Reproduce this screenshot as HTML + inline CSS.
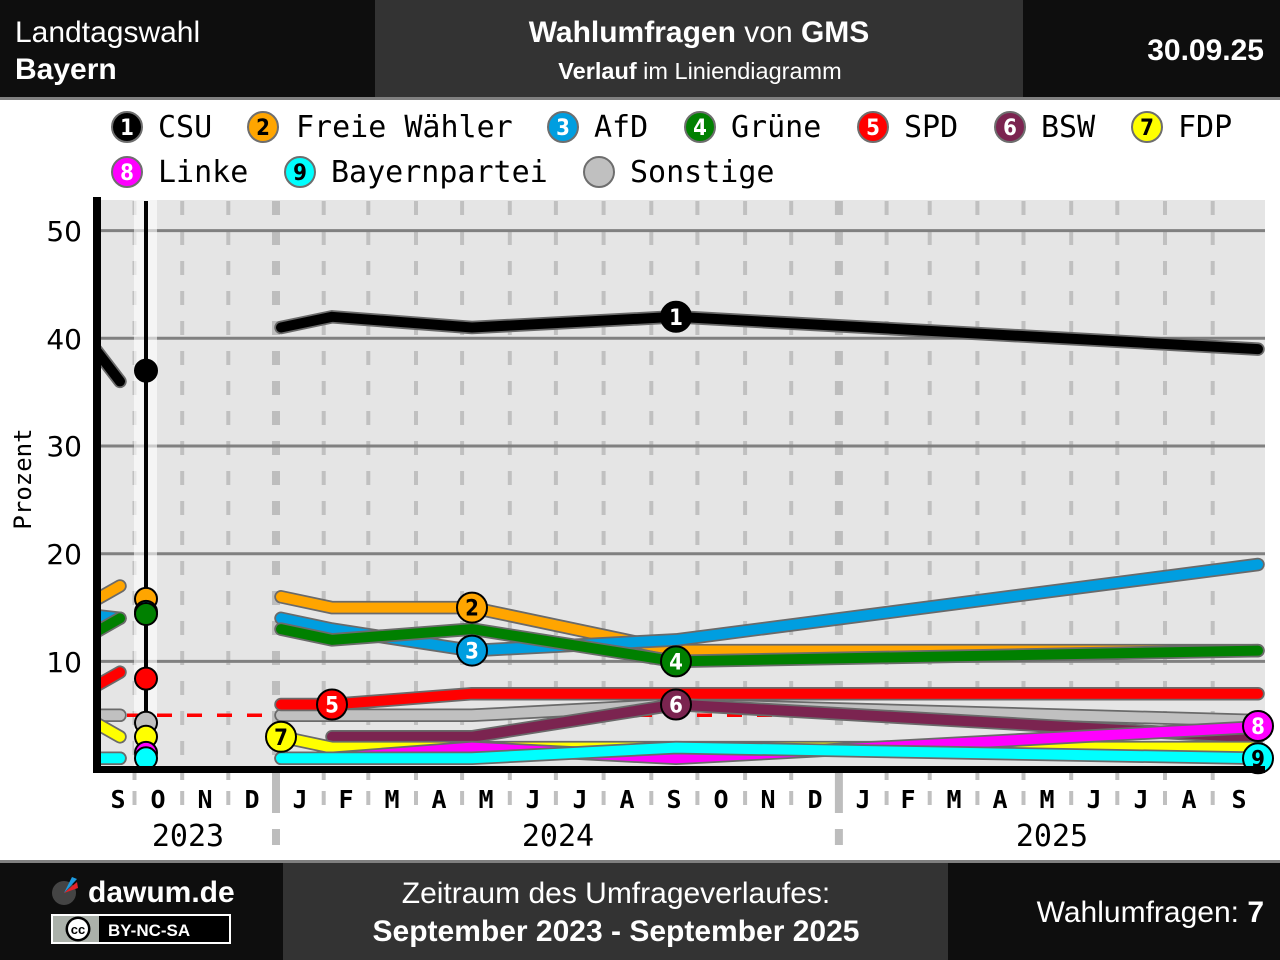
<!DOCTYPE html>
<html><head><meta charset="utf-8"><style>
html,body{margin:0;padding:0;background:#fff;}
svg{display:block;}
.s{font-family:"Liberation Sans",Arial,sans-serif;}
.m{font-family:"DejaVu Sans Mono","Liberation Mono",monospace;}
.d{font-family:"DejaVu Sans","Liberation Sans",sans-serif;}
.n{font-family:"DejaVu Sans Condensed","DejaVu Sans",sans-serif;font-weight:bold;font-size:22px;text-anchor:middle;}
</style></head><body>
<svg width="1280" height="960" viewBox="0 0 1280 960" xmlns="http://www.w3.org/2000/svg">
<defs><clipPath id="pc"><rect x="101" y="195" width="1179" height="575"/></clipPath></defs>
<!-- header -->
<rect x="0" y="0" width="1280" height="97" fill="#0e0e0e"/>
<rect x="375" y="0" width="648" height="97" fill="#333333"/>
<rect x="0" y="97" width="1280" height="3" fill="#808080"/>
<text class="s" x="15" y="42" font-size="30" fill="#fff">Landtagswahl</text>
<text class="s" x="15" y="79" font-size="30" font-weight="bold" fill="#fff">Bayern</text>
<text class="s" x="699" y="42" font-size="30" fill="#fff" text-anchor="middle"><tspan font-weight="bold">Wahlumfragen</tspan> von <tspan font-weight="bold">GMS</tspan></text>
<text class="s" x="700" y="79" font-size="23.5" fill="#fff" text-anchor="middle"><tspan font-weight="bold">Verlauf</tspan> im Liniendiagramm</text>
<text class="s" x="1264" y="60" font-size="30" font-weight="bold" fill="#fff" text-anchor="end">30.09.25</text>

<!-- legend -->
<g stroke="#6e6e6e" stroke-width="2">
<circle cx="127" cy="127" r="15" fill="#000"/>
<circle cx="263" cy="127" r="15" fill="#ffa500"/>
<circle cx="563" cy="127" r="15" fill="#009ee0"/>
<circle cx="700" cy="127" r="15" fill="#008000"/>
<circle cx="873" cy="127" r="15" fill="#ff0000"/>
<circle cx="1010" cy="127" r="15" fill="#7b2450"/>
<circle cx="1147" cy="127" r="15" fill="#ffff00"/>
<circle cx="127" cy="172" r="15" fill="#ff00ff"/>
<circle cx="300" cy="172" r="15" fill="#00ffff"/>
<circle cx="599" cy="172" r="15" fill="#c0c0c0"/>
</g>
<text class="n" x="127" y="135" fill="#fff">1</text>
<text class="n" x="263" y="135" fill="#000">2</text>
<text class="n" x="563" y="135" fill="#fff">3</text>
<text class="n" x="700" y="135" fill="#fff">4</text>
<text class="n" x="873" y="135" fill="#fff">5</text>
<text class="n" x="1010" y="135" fill="#fff">6</text>
<text class="n" x="1147" y="135" fill="#000">7</text>
<text class="n" x="127" y="180" fill="#fff">8</text>
<text class="n" x="300" y="180" fill="#000">9</text>
<g class="m" font-size="30" fill="#000">
<text x="158" y="137">CSU</text>
<text x="296" y="137">Freie Wähler</text>
<text x="594" y="137">AfD</text>
<text x="731" y="137">Grüne</text>
<text x="904" y="137">SPD</text>
<text x="1041" y="137">BSW</text>
<text x="1178" y="137">FDP</text>
<text x="158" y="182">Linke</text>
<text x="331" y="182">Bayernpartei</text>
<text x="630" y="182">Sonstige</text>
</g>

<!-- plot background -->
<rect x="101" y="200" width="1164" height="569" fill="#e5e5e5"/>
<!-- vertical month dashes -->
<g stroke="#c0c0c0" stroke-width="4" stroke-dasharray="14 16">
<line x1="134.5" y1="201" x2="134.5" y2="766"/>
<line x1="182.2" y1="201" x2="182.2" y2="766"/>
<line x1="228.3" y1="201" x2="228.3" y2="766"/>
<line x1="323.7" y1="201" x2="323.7" y2="766"/>
<line x1="368.3" y1="201" x2="368.3" y2="766"/>
<line x1="416" y1="201" x2="416" y2="766"/>
<line x1="462.1" y1="201" x2="462.1" y2="766"/>
<line x1="509.8" y1="201" x2="509.8" y2="766"/>
<line x1="555.9" y1="201" x2="555.9" y2="766"/>
<line x1="603.6" y1="201" x2="603.6" y2="766"/>
<line x1="651.3" y1="201" x2="651.3" y2="766"/>
<line x1="697.4" y1="201" x2="697.4" y2="766"/>
<line x1="745.1" y1="201" x2="745.1" y2="766"/>
<line x1="791.2" y1="201" x2="791.2" y2="766"/>
<line x1="886.6" y1="201" x2="886.6" y2="766"/>
<line x1="929.7" y1="201" x2="929.7" y2="766"/>
<line x1="977.4" y1="201" x2="977.4" y2="766"/>
<line x1="1023.5" y1="201" x2="1023.5" y2="766"/>
<line x1="1071.2" y1="201" x2="1071.2" y2="766"/>
<line x1="1117.3" y1="201" x2="1117.3" y2="766"/>
<line x1="1165" y1="201" x2="1165" y2="766"/>
<line x1="1212.7" y1="201" x2="1212.7" y2="766"/>
</g>
<g stroke="#bdbdbd" stroke-width="8" stroke-dasharray="14 16">
<line x1="276" y1="201" x2="276" y2="766"/>
<line x1="838.9" y1="201" x2="838.9" y2="766"/>
</g>
<!-- horizontal gridlines -->
<g stroke="#808080" stroke-width="3">
<line x1="101" y1="661.4" x2="1265" y2="661.4"/>
<line x1="101" y1="553.7" x2="1265" y2="553.7"/>
<line x1="101" y1="446" x2="1265" y2="446"/>
<line x1="101" y1="338.3" x2="1265" y2="338.3"/>
<line x1="101" y1="230.6" x2="1265" y2="230.6"/>
</g>
<!-- election band -->
<rect x="134" y="200" width="23" height="569" fill="#fff" fill-opacity="0.6"/>
<!-- 5% line -->
<line x1="127" y1="715.3" x2="1265" y2="715.3" stroke="#ff0000" stroke-width="3.5" stroke-dasharray="15 15"/>
<!-- election line -->
<line x1="146" y1="201" x2="146" y2="769" stroke="#000" stroke-width="4"/>

<!-- series -->
<g clip-path="url(#pc)" fill="none" stroke-linejoin="round" stroke-linecap="round">
<!-- Sonstige -->
<polyline points="82,715.3 120,715.3" stroke="#6a6a6a" stroke-width="13.5"/><polyline points="82,715.3 120,715.3" stroke="#c0c0c0" stroke-width="10"/>
<polyline points="281,715.3 332,715.3 472,715.3 676,704.5 1258,720.6" stroke="#6a6a6a" stroke-width="13.5"/><polyline points="281,715.3 332,715.3 472,715.3 676,704.5 1258,720.6" stroke="#c0c0c0" stroke-width="10"/>
<!-- CSU -->
<polyline points="82,331.8 120,381.4" stroke="#6a6a6a" stroke-width="13.5"/><polyline points="82,331.8 120,381.4" stroke="#000" stroke-width="10"/>
<polyline points="281,327.5 332,316.8 472,327.5 676,316.8 1258,349.1" stroke="#6a6a6a" stroke-width="13.5"/><polyline points="281,327.5 332,316.8 472,327.5 676,316.8 1258,349.1" stroke="#000" stroke-width="10"/>
<!-- FW -->
<polyline points="82,607.6 120,586" stroke="#6a6a6a" stroke-width="13.5"/><polyline points="82,607.6 120,586" stroke="#ffa500" stroke-width="10"/>
<polyline points="281,596.8 332,607.6 472,607.6 676,650.6 1258,650.6" stroke="#6a6a6a" stroke-width="13.5"/><polyline points="281,596.8 332,607.6 472,607.6 676,650.6 1258,650.6" stroke="#ffa500" stroke-width="10"/>
<!-- AfD -->
<polyline points="82,614 120,618.3" stroke="#6a6a6a" stroke-width="13.5"/><polyline points="82,614 120,618.3" stroke="#009ee0" stroke-width="10"/>
<polyline points="281,618.3 332,629.1 472,650.6 676,639.9 1258,564.5" stroke="#6a6a6a" stroke-width="13.5"/><polyline points="281,618.3 332,629.1 472,650.6 676,639.9 1258,564.5" stroke="#009ee0" stroke-width="10"/>
<!-- Grüne -->
<polyline points="82,639.9 120,618.3" stroke="#6a6a6a" stroke-width="13.5"/><polyline points="82,639.9 120,618.3" stroke="#008000" stroke-width="10"/>
<polyline points="281,629.1 332,639.9 472,629.1 676,661.4 1258,650.6" stroke="#6a6a6a" stroke-width="13.5"/><polyline points="281,629.1 332,639.9 472,629.1 676,661.4 1258,650.6" stroke="#008000" stroke-width="10"/>
<!-- SPD -->
<polyline points="82,693.7 120,672.2" stroke="#6a6a6a" stroke-width="13.5"/><polyline points="82,693.7 120,672.2" stroke="#ff0000" stroke-width="10"/>
<polyline points="281,704.5 332,704.5 472,693.7 676,693.7 1258,693.7" stroke="#6a6a6a" stroke-width="13.5"/><polyline points="281,704.5 332,704.5 472,693.7 676,693.7 1258,693.7" stroke="#ff0000" stroke-width="10"/>
<!-- BSW -->
<polyline points="332,736.8 472,736.8 676,704.5 1258,737.8" stroke="#6a6a6a" stroke-width="13.5"/><polyline points="332,736.8 472,736.8 676,704.5 1258,737.8" stroke="#7b2450" stroke-width="10"/>
<!-- FDP -->
<polyline points="82,715.3 120,736.8" stroke="#6a6a6a" stroke-width="13.5"/><polyline points="82,715.3 120,736.8" stroke="#ffff00" stroke-width="10"/>
<polyline points="281,736.8 332,747.6 472,747.6 676,747.6 1258,747.6" stroke="#6a6a6a" stroke-width="13.5"/><polyline points="281,736.8 332,747.6 472,747.6 676,747.6 1258,747.6" stroke="#ffff00" stroke-width="10"/>
<!-- Linke -->
<polyline points="82,758.3 120,758.3" stroke="#6a6a6a" stroke-width="13.5"/><polyline points="82,758.3 120,758.3" stroke="#ff00ff" stroke-width="10"/>
<polyline points="281,758.3 332,758.3 472,747.6 676,758.3 1258,727" stroke="#6a6a6a" stroke-width="13.5"/><polyline points="281,758.3 332,758.3 472,747.6 676,758.3 1258,727" stroke="#ff00ff" stroke-width="10"/>
<!-- BP -->
<polyline points="82,758.3 120,758.3" stroke="#6a6a6a" stroke-width="13.5"/><polyline points="82,758.3 120,758.3" stroke="#00ffff" stroke-width="10"/>
<polyline points="281,758.3 332,758.3 472,758.3 676,747.6 1258,758.3" stroke="#6a6a6a" stroke-width="13.5"/><polyline points="281,758.3 332,758.3 472,758.3 676,747.6 1258,758.3" stroke="#00ffff" stroke-width="10"/>
</g>

<!-- election markers -->
<g stroke="#000" stroke-width="2">
<circle cx="146" cy="722.8" r="11" fill="#c0c0c0"/>
<circle cx="146" cy="370.6" r="11" fill="#000"/>
<circle cx="146" cy="598.9" r="11" fill="#ffa500"/>
<circle cx="146" cy="611.9" r="11" fill="#009ee0"/>
<circle cx="146" cy="614" r="11" fill="#008000"/>
<circle cx="146" cy="678.6" r="11" fill="#ff0000"/>
<circle cx="146" cy="736.8" r="11" fill="#ffff00"/>
<circle cx="146" cy="752.9" r="11" fill="#ff00ff"/>
<circle cx="146" cy="758.3" r="11" fill="#00ffff"/>
</g>

<!-- numbered markers -->
<g stroke="#000" stroke-width="2">
<circle cx="676" cy="316.8" r="15" fill="#000"/>
<circle cx="472" cy="607.6" r="15" fill="#ffa500"/>
<circle cx="472" cy="650.6" r="15" fill="#009ee0"/>
<circle cx="676" cy="661.4" r="15" fill="#008000"/>
<circle cx="332" cy="704.5" r="15" fill="#ff0000"/>
<circle cx="676" cy="704.5" r="15" fill="#7b2450"/>
<circle cx="281" cy="736.8" r="15" fill="#ffff00"/>
<circle cx="1258" cy="726" r="15" fill="#ff00ff"/>
<circle cx="1258" cy="758.3" r="15" fill="#00ffff"/>
</g>
<text class="n" x="676" y="324.8" fill="#fff">1</text>
<text class="n" x="472" y="615.6" fill="#000">2</text>
<text class="n" x="472" y="658.6" fill="#fff">3</text>
<text class="n" x="676" y="669.4" fill="#fff">4</text>
<text class="n" x="332" y="712.5" fill="#fff">5</text>
<text class="n" x="676" y="712.5" fill="#fff">6</text>
<text class="n" x="281" y="744.8" fill="#000">7</text>
<text class="n" x="1258" y="734" fill="#fff">8</text>
<text class="n" x="1258" y="766.3" fill="#000">9</text>

<!-- axes -->
<rect x="93" y="197" width="8" height="576" fill="#000"/>
<rect x="93" y="766" width="1172" height="7" fill="#000"/>

<!-- y labels -->
<g class="d" font-size="28" fill="#000" text-anchor="end">
<text x="82" y="241">50</text>
<text x="82" y="349">40</text>
<text x="82" y="456">30</text>
<text x="82" y="564">20</text>
<text x="82" y="672">10</text>
</g>
<text class="m" font-size="24" fill="#000" text-anchor="middle" transform="translate(31,479) rotate(-90)">Prozent</text>

<!-- ticks under axis -->
<g stroke="#c0c0c0" stroke-width="4">
<path d="M134.5 773V780M134.5 791V805M182.2 773V780M182.2 791V805M228.3 773V780M228.3 791V805M323.7 773V780M323.7 791V805M368.3 773V780M368.3 791V805M416 773V780M416 791V805M462.1 773V780M462.1 791V805M509.8 773V780M509.8 791V805M555.9 773V780M555.9 791V805M603.6 773V780M603.6 791V805M651.3 773V780M651.3 791V805M697.4 773V780M697.4 791V805M745.1 773V780M745.1 791V805M791.2 773V780M791.2 791V805M886.6 773V780M886.6 791V805M929.7 773V780M929.7 791V805M977.4 773V780M977.4 791V805M1023.5 773V780M1023.5 791V805M1071.2 773V780M1071.2 791V805M1117.3 773V780M1117.3 791V805M1165 773V780M1165 791V805M1212.7 773V780M1212.7 791V805"/>
</g>
<g stroke="#bdbdbd" stroke-width="8">
<path d="M276 773V813M276 829V845M838.9 773V813M838.9 829V845"/>
</g>
<!-- month labels -->
<g class="m" font-size="25" font-weight="bold" fill="#000" text-anchor="middle">
<text x="118" y="808">S</text><text x="158" y="808">O</text><text x="205" y="808">N</text><text x="252" y="808">D</text>
<text x="300" y="808">J</text><text x="346" y="808">F</text><text x="392" y="808">M</text><text x="439" y="808">A</text>
<text x="486" y="808">M</text><text x="533" y="808">J</text><text x="580" y="808">J</text><text x="627" y="808">A</text>
<text x="674" y="808">S</text><text x="721" y="808">O</text><text x="768" y="808">N</text><text x="815" y="808">D</text>
<text x="863" y="808">J</text><text x="908" y="808">F</text><text x="954" y="808">M</text><text x="1000" y="808">A</text>
<text x="1047" y="808">M</text><text x="1094" y="808">J</text><text x="1141" y="808">J</text><text x="1189" y="808">A</text>
<text x="1239" y="808">S</text>
</g>
<g class="m" font-size="30" fill="#000" text-anchor="middle">
<text x="188" y="846">2023</text>
<text x="558" y="846">2024</text>
<text x="1052" y="846">2025</text>
</g>

<!-- footer -->
<rect x="0" y="860" width="1280" height="3" fill="#808080"/>
<rect x="0" y="863" width="1280" height="97" fill="#0e0e0e"/>
<rect x="283" y="863" width="665" height="97" fill="#333333"/>
<circle cx="64" cy="893" r="12" fill="#444"/>
<path d="M64 893 L72 877 L77 879 Z" fill="#1e9be0"/>
<path d="M64 893 L77 882 L78 888 Z" fill="#e52228"/>
<text class="s" x="88" y="902" font-size="30" font-weight="bold" fill="#fff">dawum.de</text>
<rect x="52" y="915" width="178" height="28" fill="#000" stroke="#fff" stroke-width="2"/>
<rect x="53" y="916" width="46" height="26" fill="#abb1aa"/>
<circle cx="78" cy="929" r="12.5" fill="#000"/>
<circle cx="78" cy="929" r="10" fill="#fff"/>
<text class="s" x="78" y="934" font-size="13" font-weight="bold" fill="#000" text-anchor="middle">cc</text>
<text class="s" x="108" y="936" font-size="17" font-weight="bold" fill="#fff">BY-NC-SA</text>
<text class="s" x="616" y="903" font-size="30" fill="#fff" text-anchor="middle">Zeitraum des Umfrageverlaufes:</text>
<text class="s" x="616" y="941" font-size="30" font-weight="bold" fill="#fff" text-anchor="middle">September 2023 - September 2025</text>
<text class="s" x="1264" y="922" font-size="30" fill="#fff" text-anchor="end">Wahlumfragen: <tspan font-weight="bold">7</tspan></text>
</svg>
</body></html>
